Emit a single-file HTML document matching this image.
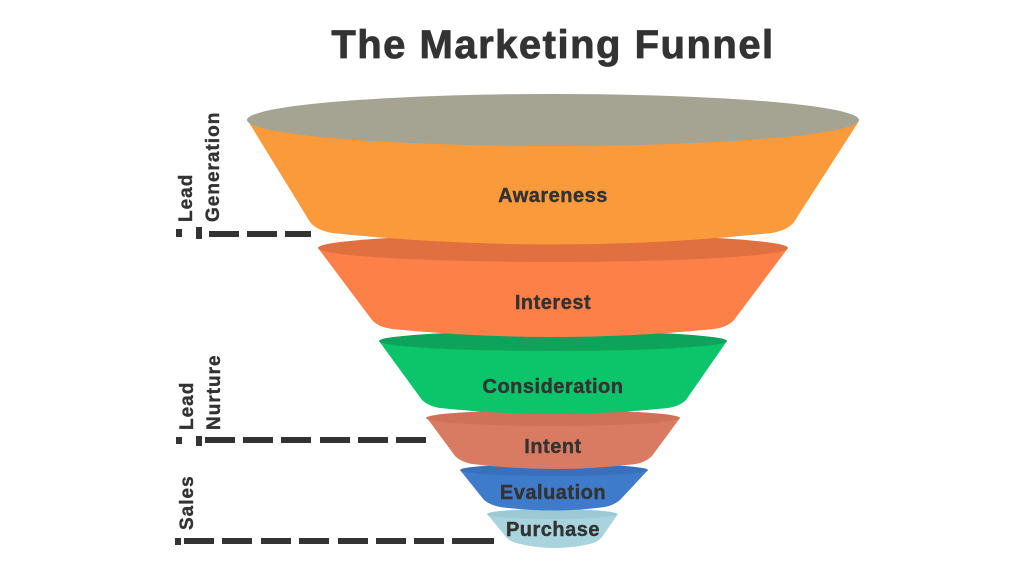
<!DOCTYPE html>
<html><head><style>
html,body{margin:0;padding:0;background:#fff;}
svg{display:block;font-family:"Liberation Sans",sans-serif;}
</style></head><body>
<svg width="1024" height="576" viewBox="0 0 1024 576">
<text x="553" y="58" text-anchor="middle" font-size="40" font-weight="bold" fill="#333" letter-spacing="1.5" stroke="#333" stroke-width="0.8">The Marketing Funnel</text>

<!-- Purchase -->
<path d="M487,514 L506,537 Q510,542 520,544 Q554,552 590,544 Q598,542 602,537 L618,514 Z" fill="#A9D4DE"/>
<ellipse cx="552" cy="514" rx="65" ry="5" fill="#9CC9D4"/>
<!-- Evaluation -->
<path d="M460,470 L484,500 Q490,505 500,507 Q553,514 605,507 Q614,505 620,500 L648,470 Z" fill="#3F7BCB"/>
<ellipse cx="554" cy="470" rx="94" ry="6" fill="#3A6FBC"/>
<!-- Intent -->
<path d="M427,418 L455,456 Q461,462 472,464 Q554,474 636,464 Q646,462 652,456 L680,418 Z" fill="#D97B62"/>
<ellipse cx="553" cy="418" rx="127" ry="8" fill="#CF7058"/>
<!-- Consideration -->
<path d="M379,341 L422,400 Q428,406 440,408 Q553,420 668,408 Q680,406 686,400 L727,341 Z" fill="#0CC46A"/>
<ellipse cx="553" cy="341" rx="174" ry="10" fill="#0EA35A"/>
<!-- Interest -->
<path d="M318,248 L372,320 Q378,327 392,329 Q553,345 714,329 Q728,327 734,320 L788,248 Z" fill="#FD8048"/>
<ellipse cx="553" cy="248" rx="235" ry="14" fill="#E0703F"/>
<!-- Awareness -->
<path d="M248,121 L310,222 Q316,230 332,233 Q553,256 772,233 Q788,230 794,222 L859,121 Z" fill="#FB9A3A"/>
<ellipse cx="553" cy="120" rx="306" ry="26" fill="#A5A391"/>

<g font-weight="bold" fill="#333" text-anchor="middle" font-size="20" stroke="#333" stroke-width="0.4" letter-spacing="0.5">
<text x="553" y="202">Awareness</text>
<text x="553" y="309">Interest</text>
<text x="553" y="393">Consideration</text>
<text x="553" y="453">Intent</text>
<text x="553" y="499">Evaluation</text>
<text x="553" y="536">Purchase</text>
</g>

<g font-weight="bold" fill="#333" font-size="19" letter-spacing="1" stroke="#333" stroke-width="0.4">
<text transform="translate(192,222) rotate(-90)">Lead</text>
<text transform="translate(219,222) rotate(-90)">Generation</text>
<text transform="translate(193,430) rotate(-90)">Lead</text>
<text transform="translate(220,430) rotate(-90)">Nurture</text>
<text transform="translate(193,530) rotate(-90)">Sales</text>
</g>

<g fill="#333">
<rect x="176" y="229" width="6" height="8"/>
<rect x="196" y="227" width="6" height="12"/>
<rect x="209" y="231" width="30" height="6"/>
<rect x="247" y="231" width="30" height="6"/>
<rect x="285" y="231" width="26" height="6"/>

<rect x="176" y="437" width="6" height="7"/>
<rect x="196" y="436" width="6" height="10"/>
<rect x="205" y="437" width="30" height="6"/>
<rect x="243" y="437" width="30" height="6"/>
<rect x="281" y="437" width="30" height="6"/>
<rect x="320" y="437" width="30" height="6"/>
<rect x="358" y="437" width="30" height="6"/>
<rect x="396" y="437" width="30" height="6"/>

<rect x="175" y="538" width="6" height="7"/>
<rect x="184" y="538" width="30" height="6"/>
<rect x="222" y="538" width="30" height="6"/>
<rect x="261" y="538" width="30" height="6"/>
<rect x="299" y="538" width="30" height="6"/>
<rect x="338" y="538" width="30" height="6"/>
<rect x="376" y="538" width="30" height="6"/>
<rect x="414" y="538" width="30" height="6"/>
<rect x="452" y="538" width="42" height="6"/>
</g>
</svg>
</body></html>
